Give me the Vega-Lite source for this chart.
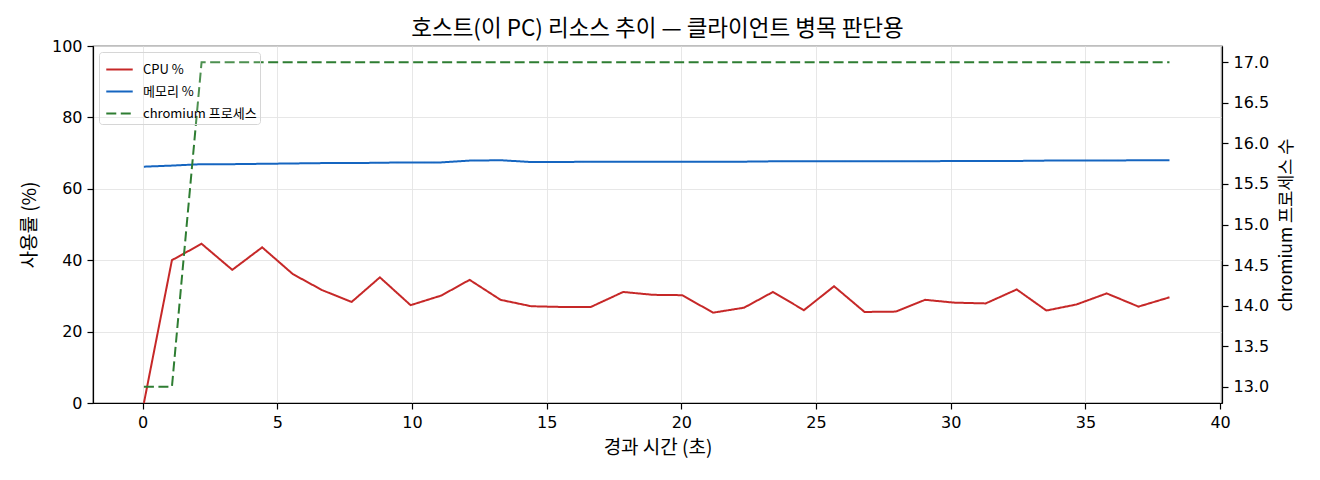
{
  "$schema": "https://vega.github.io/schema/vega-lite/v6.json",
  "autosize": {"type": "none"},
  "padding": {"left": 93, "top": 46, "right": 98, "bottom": 77},
  "width": 1129,
  "height": 357,
  "background": "white",
  "title": {
    "text": "호스트(이 PC) 리소스 추이 — 클라이언트 병목 판단용",
    "font": "Noto Sans CJK KR",
    "fontSize": 22.5,
    "fontWeight": "normal",
    "color": "black",
    "anchor": "middle",
    "offset": -2
  },
  "config": {
    "font": "Noto Sans CJK KR",
    "view": {"stroke": "black", "strokeWidth": 1.2},
    "axis": {
      "labelFont": "DejaVu Sans",
      "labelFontSize": 16,
      "labelColor": "black",
      "labelPadding": 5,
      "titleFont": "Noto Sans CJK KR",
      "titleFontSize": 19,
      "titleFontWeight": "normal",
      "titleColor": "black",
      "domainColor": "black",
      "domainWidth": 1.2,
      "tickColor": "black",
      "tickWidth": 1.2,
      "tickSize": 6,
      "gridColor": "#e4e4e4",
      "gridWidth": 0.9
    }
  },
  "data": {
    "values": [
      {"t": 0.05, "series": "CPU %", "value": 0},
      {"t": 1.09, "series": "CPU %", "value": 40.0},
      {"t": 2.19, "series": "CPU %", "value": 44.6},
      {"t": 3.33, "series": "CPU %", "value": 37.3},
      {"t": 4.44, "series": "CPU %", "value": 43.6},
      {"t": 5.58, "series": "CPU %", "value": 36.1},
      {"t": 6.67, "series": "CPU %", "value": 31.6},
      {"t": 7.76, "series": "CPU %", "value": 28.3},
      {"t": 8.81, "series": "CPU %", "value": 35.2},
      {"t": 9.95, "series": "CPU %", "value": 27.4},
      {"t": 11.09, "series": "CPU %", "value": 30.1},
      {"t": 12.14, "series": "CPU %", "value": 34.5},
      {"t": 13.29, "series": "CPU %", "value": 28.9},
      {"t": 14.43, "series": "CPU %", "value": 27.1},
      {"t": 15.58, "series": "CPU %", "value": 26.9},
      {"t": 16.64, "series": "CPU %", "value": 26.9},
      {"t": 17.84, "series": "CPU %", "value": 31.1},
      {"t": 18.95, "series": "CPU %", "value": 30.3},
      {"t": 20.03, "series": "CPU %", "value": 30.2},
      {"t": 21.18, "series": "CPU %", "value": 25.3},
      {"t": 22.33, "series": "CPU %", "value": 26.7},
      {"t": 23.4, "series": "CPU %", "value": 31.1},
      {"t": 24.55, "series": "CPU %", "value": 26.0},
      {"t": 25.67, "series": "CPU %", "value": 32.7},
      {"t": 26.8, "series": "CPU %", "value": 25.5},
      {"t": 27.96, "series": "CPU %", "value": 25.6},
      {"t": 29.05, "series": "CPU %", "value": 28.9},
      {"t": 30.15, "series": "CPU %", "value": 28.1},
      {"t": 31.3, "series": "CPU %", "value": 27.9},
      {"t": 32.45, "series": "CPU %", "value": 31.8},
      {"t": 33.55, "series": "CPU %", "value": 25.9},
      {"t": 34.67, "series": "CPU %", "value": 27.6},
      {"t": 35.79, "series": "CPU %", "value": 30.7},
      {"t": 36.97, "series": "CPU %", "value": 27.0},
      {"t": 38.12, "series": "CPU %", "value": 29.6},

      {"t": 0.05, "series": "메모리 %", "value": 66.2},
      {"t": 1.09, "series": "메모리 %", "value": 66.5},
      {"t": 2.19, "series": "메모리 %", "value": 66.9},
      {"t": 3.33, "series": "메모리 %", "value": 66.9},
      {"t": 4.44, "series": "메모리 %", "value": 67.0},
      {"t": 5.58, "series": "메모리 %", "value": 67.1},
      {"t": 6.67, "series": "메모리 %", "value": 67.2},
      {"t": 7.76, "series": "메모리 %", "value": 67.2},
      {"t": 8.81, "series": "메모리 %", "value": 67.3},
      {"t": 9.95, "series": "메모리 %", "value": 67.4},
      {"t": 11.09, "series": "메모리 %", "value": 67.4},
      {"t": 12.14, "series": "메모리 %", "value": 67.9},
      {"t": 13.29, "series": "메모리 %", "value": 68.0},
      {"t": 14.43, "series": "메모리 %", "value": 67.5},
      {"t": 15.58, "series": "메모리 %", "value": 67.5},
      {"t": 16.64, "series": "메모리 %", "value": 67.6},
      {"t": 17.84, "series": "메모리 %", "value": 67.6},
      {"t": 18.95, "series": "메모리 %", "value": 67.6},
      {"t": 20.03, "series": "메모리 %", "value": 67.6},
      {"t": 21.18, "series": "메모리 %", "value": 67.6},
      {"t": 22.33, "series": "메모리 %", "value": 67.6},
      {"t": 23.4, "series": "메모리 %", "value": 67.7},
      {"t": 24.55, "series": "메모리 %", "value": 67.7},
      {"t": 25.67, "series": "메모리 %", "value": 67.7},
      {"t": 26.8, "series": "메모리 %", "value": 67.7},
      {"t": 27.96, "series": "메모리 %", "value": 67.7},
      {"t": 29.05, "series": "메모리 %", "value": 67.7},
      {"t": 30.15, "series": "메모리 %", "value": 67.8},
      {"t": 31.3, "series": "메모리 %", "value": 67.8},
      {"t": 32.45, "series": "메모리 %", "value": 67.8},
      {"t": 33.55, "series": "메모리 %", "value": 67.9},
      {"t": 34.67, "series": "메모리 %", "value": 67.9},
      {"t": 35.79, "series": "메모리 %", "value": 67.9},
      {"t": 36.97, "series": "메모리 %", "value": 68.0},
      {"t": 38.12, "series": "메모리 %", "value": 68.0},

      {"t": 0.05, "series": "chromium 프로세스", "value": 13},
      {"t": 1.09, "series": "chromium 프로세스", "value": 13},
      {"t": 2.19, "series": "chromium 프로세스", "value": 17},
      {"t": 3.33, "series": "chromium 프로세스", "value": 17},
      {"t": 4.44, "series": "chromium 프로세스", "value": 17},
      {"t": 5.58, "series": "chromium 프로세스", "value": 17},
      {"t": 6.67, "series": "chromium 프로세스", "value": 17},
      {"t": 7.76, "series": "chromium 프로세스", "value": 17},
      {"t": 8.81, "series": "chromium 프로세스", "value": 17},
      {"t": 9.95, "series": "chromium 프로세스", "value": 17},
      {"t": 11.09, "series": "chromium 프로세스", "value": 17},
      {"t": 12.14, "series": "chromium 프로세스", "value": 17},
      {"t": 13.29, "series": "chromium 프로세스", "value": 17},
      {"t": 14.43, "series": "chromium 프로세스", "value": 17},
      {"t": 15.58, "series": "chromium 프로세스", "value": 17},
      {"t": 16.64, "series": "chromium 프로세스", "value": 17},
      {"t": 17.84, "series": "chromium 프로세스", "value": 17},
      {"t": 18.95, "series": "chromium 프로세스", "value": 17},
      {"t": 20.03, "series": "chromium 프로세스", "value": 17},
      {"t": 21.18, "series": "chromium 프로세스", "value": 17},
      {"t": 22.33, "series": "chromium 프로세스", "value": 17},
      {"t": 23.4, "series": "chromium 프로세스", "value": 17},
      {"t": 24.55, "series": "chromium 프로세스", "value": 17},
      {"t": 25.67, "series": "chromium 프로세스", "value": 17},
      {"t": 26.8, "series": "chromium 프로세스", "value": 17},
      {"t": 27.96, "series": "chromium 프로세스", "value": 17},
      {"t": 29.05, "series": "chromium 프로세스", "value": 17},
      {"t": 30.15, "series": "chromium 프로세스", "value": 17},
      {"t": 31.3, "series": "chromium 프로세스", "value": 17},
      {"t": 32.45, "series": "chromium 프로세스", "value": 17},
      {"t": 33.55, "series": "chromium 프로세스", "value": 17},
      {"t": 34.67, "series": "chromium 프로세스", "value": 17},
      {"t": 35.79, "series": "chromium 프로세스", "value": 17},
      {"t": 36.97, "series": "chromium 프로세스", "value": 17},
      {"t": 38.12, "series": "chromium 프로세스", "value": 17}
    ]
  },
  "encoding": {
    "x": {
      "field": "t",
      "type": "quantitative",
      "title": "경과 시간 (초)",
      "scale": {"domain": [-1.84, 40.07], "nice": false, "zero": false},
      "axis": {"values": [0, 5, 10, 15, 20, 25, 30, 35, 40], "grid": true, "titlePadding": 8}
    },
    "color": {
      "field": "series",
      "type": "nominal",
      "title": null,
      "scale": {
        "domain": ["CPU %", "메모리 %", "chromium 프로세스"],
        "range": ["#c62828", "#1565c0", "#2e7d32"]
      },
      "legend": {
        "orient": "top-left",
        "offset": 6,
        "symbolType": "stroke",
        "symbolSize": 700,
        "symbolStrokeWidth": 2,
        "symbolOffset": 3,
        "labelOffset": 9,
        "labelFont": "Noto Sans CJK KR",
        "labelFontSize": 13,
        "labelColor": "black",
        "rowPadding": 0,
        "padding": 3,
        "strokeColor": "#d6d6d6",
        "fillColor": "rgba(255,255,255,0.15)",
        "cornerRadius": 3
      }
    },
    "strokeDash": {
      "field": "series",
      "type": "nominal",
      "title": null,
      "scale": {
        "domain": ["CPU %", "메모리 %", "chromium 프로세스"],
        "range": [[1, 0], [1, 0], [10, 4.5]]
      },
      "legend": null
    }
  },
  "layer": [
    {
      "transform": [{"filter": "datum.series !== 'chromium 프로세스'"}],
      "mark": {"type": "line", "strokeWidth": 2},
      "encoding": {
        "y": {
          "field": "value",
          "type": "quantitative",
          "title": "사용률 (%)",
          "scale": {"domain": [0, 100], "nice": false},
          "axis": {"values": [0, 20, 40, 60, 80, 100], "grid": true, "titlePadding": 12}
        }
      }
    },
    {
      "transform": [{"filter": "datum.series === 'chromium 프로세스'"}],
      "mark": {"type": "line", "strokeWidth": 2},
      "encoding": {
        "y": {
          "field": "value",
          "type": "quantitative",
          "title": "chromium 프로세스 수",
          "scale": {"domain": [12.8, 17.2], "nice": false, "zero": false},
          "axis": {
            "orient": "right",
            "values": [13, 13.5, 14, 14.5, 15, 15.5, 16, 16.5, 17],
            "format": ".1f",
            "grid": false,
            "titleFontSize": 17.5,
            "titleAngle": 270,
            "titleBaseline": "top",
            "titlePadding": 9
          }
        }
      }
    }
  ],
  "resolve": {"scale": {"y": "independent"}}
}
